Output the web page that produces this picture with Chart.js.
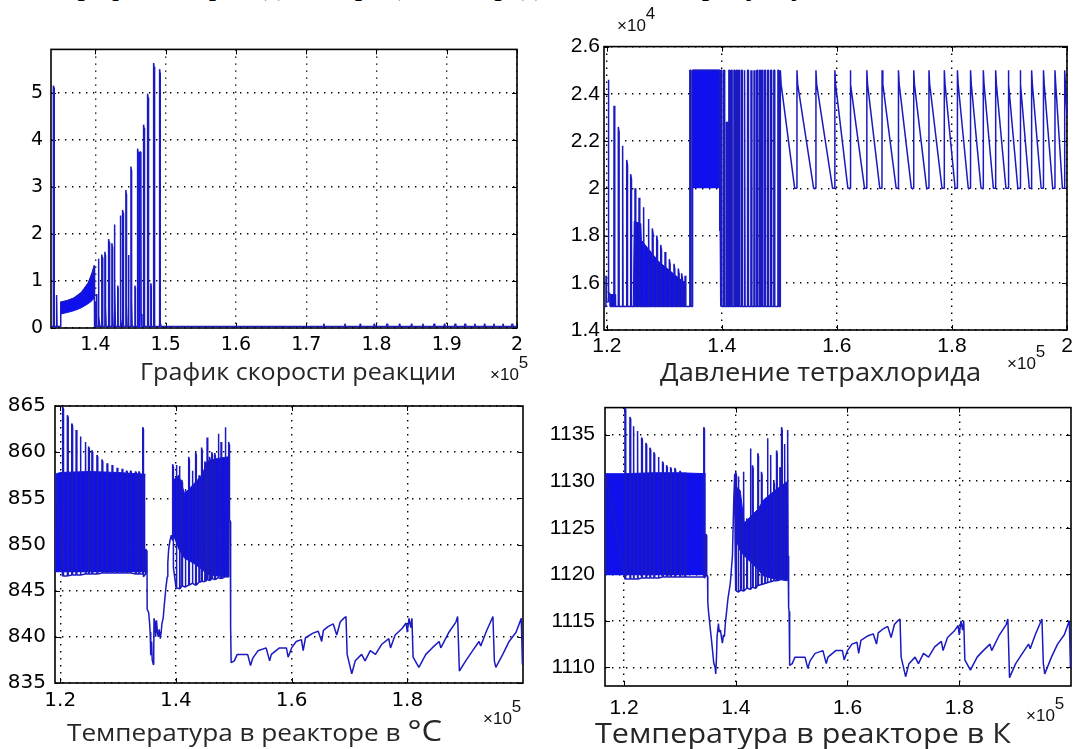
<!DOCTYPE html>
<html lang="ru">
<head>
<meta charset="utf-8">
<title>Графики</title>
<script src="https://cdn.jsdelivr.net/npm/chart.js@4.4.1/dist/chart.umd.min.js"></script>
<style>
  html, body { margin: 0; padding: 0; background: #fff; }
  body { width: 1081px; height: 749px; position: relative; overflow: hidden; }
  canvas { position: absolute; }
  .cap { position: absolute; white-space: nowrap; line-height: 1; color: #262626; font-family: "Open Sans", sans-serif;
         transform: scaleX(1.09); transform-origin: 0 0; }
  .mult { position: absolute; white-space: nowrap; line-height: 1; color: #111; font-family: "Liberation Sans", Arial, sans-serif; font-size: 17px; }
  .mult span { position: relative; top: -12px; }
  .clip { position: absolute; left: 0; top: 0; width: 1081px; height: 10px; overflow: hidden; }
  .clip span { position: absolute; left: 62px; top: -30px; font-family: "Liberation Serif", serif; font-size: 30px; line-height: 1; white-space: nowrap; }
</style>
</head>
<body>
<div class="clip"><span>Графики переходных процессов представлены по рисунку</span></div>

<canvas id="rateChart" width="537" height="328" style="left:0px; top:30px"></canvas>
<canvas id="pressChart" width="532" height="335" style="left:549px; top:30px"></canvas>
<canvas id="tempCChart" width="540" height="328" style="left:0px; top:385px"></canvas>
<canvas id="tempKChart" width="536" height="331" style="left:545px; top:385px"></canvas>

<div class="mult" style="left:617px; top:17px">×10<span>4</span></div>
<div class="cap" style="left:140px; top:360px; font-size:23px">График скорости реакции</div>
<div class="mult" style="left:490px; top:366px">×10<span>5</span></div>
<div class="cap" style="left:660px; top:359px; font-size:25px">Давление тетрахлорида</div>
<div class="mult" style="left:1007px; top:355px">×10<span>5</span></div>
<div class="cap" style="left:67px; top:715px; font-size:24px">Температура в реакторе в <span style="font-size:30px">°C</span></div>
<div class="mult" style="left:483px; top:710px">×10<span>5</span></div>
<div class="cap" style="left:595px; top:718px; font-size:28px">Температура в реакторе в К</div>
<div class="mult" style="left:1026px; top:707px">×10<span>5</span></div>

<script>
// --- График скорости реакции (x в единицах 1e5) ---
const rateXTicks = [1.4, 1.5, 1.6, 1.7, 1.8, 1.9, 2];
const rateYTicks = [0, 1, 2, 3, 4, 5];

const rateHeadX = [1.3368, 1.3399, 1.3401, 1.3411, 1.3413, 1.3441, 1.3443, 1.3451, 1.3453, 1.3504,
    1.3506, 1.3600, 1.3700, 1.3800, 1.3900, 1.3950, 1.3984, 1.3987,
    1.4001, 1.4003, 1.4009, 1.4015, 1.4021, 1.4038];
const rateHeadY = [0.03, 0.03, 5.15, 5.10, 0.03, 0.03, 0.70, 0.66, 0.03, 0.03,
    0.55, 0.58, 0.64, 0.75, 0.96, 1.15, 1.33, 0.03,
    0.03, 0.55, 0.08, 0.72, 0.03, 0.03];

const rateSpikeX = [
    1.4040, 1.4047, 1.4050, 1.4062, 1.4088,
    1.4090, 1.4097, 1.4100, 1.4107, 1.4132,
    1.4134, 1.4140, 1.4143, 1.4152, 1.4185,
    1.4187, 1.4194, 1.4197, 1.4205, 1.4232,
    1.4234, 1.4240, 1.4243, 1.4250, 1.4265,
    1.4267, 1.4274, 1.4277, 1.4284, 1.4315,
    1.4317, 1.4321, 1.4323, 1.4350,
    1.4352, 1.4358, 1.4361, 1.4368, 1.4384,
    1.4386, 1.4392, 1.4395, 1.4402, 1.4431,
    1.4433, 1.4439, 1.4442, 1.4450, 1.4466,
    1.4468, 1.4474, 1.4477, 1.4503,
    1.4505, 1.4511, 1.4514, 1.4522, 1.4560,
    1.4562, 1.4566, 1.4568, 1.4598,
    1.4600, 1.4606, 1.4646, 1.4650, 1.4660, 1.4683,
    1.4685, 1.4691, 1.4694, 1.4702, 1.4740,
    1.4742, 1.4748, 1.4751, 1.4760, 1.4786,
    1.4788, 1.4792, 1.4794, 1.4826,
    1.4828, 1.4834, 1.4837, 1.4846, 1.4911,
    1.4913, 1.4919, 1.4922, 1.4935];
const rateSpikeY = [
    1.47, 1.40, 0.25, 0.03, 0.03,
    1.56, 1.50, 0.60, 0.03, 0.03,
    1.62, 1.55, 0.45, 0.03, 0.03,
    1.89, 1.82, 0.65, 0.03, 0.03,
    1.80, 1.72, 0.40, 0.03, 0.03,
    2.20, 2.12, 1.00, 0.03, 0.03,
    0.90, 0.85, 0.03, 0.03,
    2.39, 2.30, 0.20, 0.03, 0.03,
    2.51, 2.45, 1.55, 0.03, 0.03,
    2.93, 2.85, 0.50, 0.03, 0.03,
    1.55, 1.50, 0.03, 0.03,
    3.43, 3.35, 0.60, 0.03, 0.03,
    0.90, 0.85, 0.03, 0.03,
    3.81, 3.72, 3.74, 0.30, 0.03, 0.03,
    4.32, 4.25, 0.40, 0.03, 0.03,
    4.98, 4.90, 0.50, 0.03, 0.03,
    0.95, 0.90, 0.03, 0.03,
    5.63, 5.55, 0.20, 0.03, 0.03,
    5.50, 5.42, 0.10, 0.03];

const rateTailX = [1.7240, 1.7250, 1.7260, 1.7540, 1.7550, 1.7560, 1.7760, 1.7770, 1.7780,
    1.7960, 1.7970, 1.7980, 1.8140, 1.8150, 1.8160, 1.8320, 1.8330, 1.8340,
    1.8490, 1.8500, 1.8510, 1.8650, 1.8660, 1.8670, 1.8810, 1.8820, 1.8830,
    1.8960, 1.8970, 1.8980, 1.9110, 1.9120, 1.9130, 1.9250, 1.9260, 1.9270,
    1.9390, 1.9400, 1.9410, 1.9530, 1.9540, 1.9550, 1.9660, 1.9670, 1.9680,
    1.9790, 1.9800, 1.9810, 1.9920, 1.9930, 1.9940, 2.0000];
const rateTailY = [0.03, 0.09, 0.03, 0.03, 0.09, 0.03, 0.03, 0.09, 0.03,
    0.03, 0.09, 0.03, 0.03, 0.09, 0.03, 0.03, 0.09, 0.03,
    0.03, 0.09, 0.03, 0.03, 0.09, 0.03, 0.03, 0.09, 0.03,
    0.03, 0.09, 0.03, 0.03, 0.09, 0.03, 0.03, 0.09, 0.03,
    0.03, 0.09, 0.03, 0.03, 0.09, 0.03, 0.03, 0.09, 0.03,
    0.03, 0.09, 0.03, 0.03, 0.09, 0.03, 0.03];

// сплошная полоса колебаний 1.35..1.40
const rateBandX = [1.3506, 1.3600, 1.3700, 1.3800, 1.3900, 1.3950, 1.3984];
const rateBandTop = [0.55, 0.58, 0.64, 0.75, 0.96, 1.15, 1.33];
const rateBandBottom = [0.30, 0.33, 0.37, 0.43, 0.52, 0.58, 0.64];
const rateBlockX = [1.4606, 1.4646];
const rateBlockY = [3.72, 3.74];

// --- Давление тетрахлорида (y в единицах 1e4) ---
const pressXTicks = [1.2, 1.4, 1.6, 1.8, 2];
const pressYTicks = [1.4, 1.6, 1.8, 2, 2.2, 2.4, 2.6];

const pressHeadX = [1.1950, 1.1983, 1.1985, 1.1992, 1.1994, 1.2022, 1.2024, 1.2032, 1.2034, 1.2060, 1.2062,
    1.2122, 1.2124, 1.2136, 1.2138,
    1.2197, 1.2199, 1.2211, 1.2213,
    1.2266, 1.2268, 1.2280, 1.2282,
    1.2343, 1.2345, 1.2357, 1.2359,
    1.2412, 1.2414, 1.2426, 1.2428,
    1.2487, 1.2489, 1.2501, 1.2503,
    1.2557, 1.2559, 1.2571, 1.2573,
    1.2631, 1.2633, 1.2645, 1.2647,
    1.2718, 1.2720, 1.2732, 1.2734,
    1.2788, 1.2790, 1.2802, 1.2804,
    1.2864, 1.2866, 1.2878, 1.2880,
    1.2934, 1.2936, 1.2948, 1.2950,
    1.3009, 1.3011, 1.3023, 1.3025,
    1.3084, 1.3086, 1.3098, 1.3100,
    1.3165, 1.3167, 1.3179, 1.3181,
    1.3240, 1.3242, 1.3254, 1.3256,
    1.3298, 1.3300, 1.3312, 1.3314,
    1.3357, 1.3359, 1.3371, 1.3373,
    1.3440, 1.3442, 1.3460, 1.3462, 1.3488, 1.3490, 1.3960, 1.3962, 1.3964, 1.3972, 1.3975];
const pressHeadY = [1.50, 1.50, 1.63, 1.63, 1.52, 1.52, 2.46, 2.44, 1.56, 1.55, 1.50,
    1.50, 2.35, 2.33, 1.50,
    1.50, 2.26, 2.24, 1.50,
    1.50, 2.18, 2.16, 1.50,
    1.50, 2.12, 2.10, 1.50,
    1.50, 2.06, 2.04, 1.50,
    1.50, 2.00, 1.98, 1.50,
    1.50, 1.96, 1.94, 1.50,
    1.50, 1.92, 1.90, 1.50,
    1.50, 1.87, 1.85, 1.50,
    1.50, 1.83, 1.81, 1.50,
    1.50, 1.80, 1.78, 1.50,
    1.50, 1.76, 1.74, 1.50,
    1.50, 1.73, 1.71, 1.50,
    1.50, 1.70, 1.68, 1.50,
    1.50, 1.68, 1.66, 1.50,
    1.50, 1.66, 1.64, 1.50,
    1.50, 1.64, 1.62, 1.50,
    1.50, 1.63, 1.61, 1.50,
    1.50, 2.50, 2.50, 1.50, 1.50, 2.50, 2.50, 2.00, 1.82, 1.82, 1.50];

// прямоугольные импульсы 1.40..1.50
const pressPulseX = [
    1.3982, 1.3984, 1.3998, 1.4000,
    1.4030, 1.4032, 1.4046, 1.4048,
    1.4077, 1.4079, 1.4093, 1.4095,
    1.4119, 1.4121, 1.4135, 1.4137,
    1.4160, 1.4162, 1.4176, 1.4178,
    1.4207, 1.4209, 1.4223, 1.4225,
    1.4249, 1.4251, 1.4265, 1.4267,
    1.4290, 1.4292, 1.4306, 1.4308,
    1.4338, 1.4340, 1.4354, 1.4356,
    1.4385, 1.4387, 1.4401, 1.4403,
    1.4444, 1.4446, 1.4460, 1.4462,
    1.4504, 1.4506, 1.4520, 1.4522,
    1.4557, 1.4559, 1.4573, 1.4575,
    1.4604, 1.4606, 1.4620, 1.4622,
    1.4652, 1.4654, 1.4668, 1.4670,
    1.4693, 1.4695, 1.4709, 1.4711,
    1.4741, 1.4743, 1.4757, 1.4759,
    1.4794, 1.4796, 1.4810, 1.4812,
    1.4847, 1.4849, 1.4863, 1.4865,
    1.4901, 1.4903, 1.4917, 1.4919,
    1.4972, 1.4974, 1.4988, 1.4990];
const pressPulseY = [
    1.50, 2.50, 2.50, 1.50,
    1.50, 2.50, 2.50, 1.50,
    1.50, 2.28, 2.28, 1.50,
    1.50, 2.50, 2.50, 1.50,
    1.50, 2.50, 2.50, 1.50,
    1.50, 2.50, 2.50, 1.50,
    1.50, 2.50, 2.50, 1.50,
    1.50, 2.50, 2.50, 1.50,
    1.50, 2.50, 2.50, 1.50,
    1.50, 2.50, 2.50, 1.50,
    1.50, 2.50, 2.50, 1.50,
    1.50, 2.50, 2.50, 1.50,
    1.50, 2.50, 2.50, 1.50,
    1.50, 2.50, 2.50, 1.50,
    1.50, 2.50, 2.50, 1.50,
    1.50, 2.50, 2.50, 1.50,
    1.50, 2.50, 2.50, 1.50,
    1.50, 2.50, 2.50, 1.50,
    1.50, 2.50, 2.50, 1.50,
    1.50, 2.50, 2.50, 1.50,
    1.50, 2.50, 2.50, 1.50];

// пила 2.0..2.5 после 1.5
const pressSawX = [
    1.5014, 1.5016, 1.5030, 1.5265,
    1.5303, 1.5305, 1.5318, 1.5595,
    1.5633, 1.5635, 1.5648, 1.5924,
    1.5962, 1.5964, 1.5977, 1.6190,
    1.6228, 1.6230, 1.6243, 1.6480,
    1.6518, 1.6520, 1.6533, 1.6745,
    1.6783, 1.6785, 1.6798, 1.7030,
    1.7068, 1.7070, 1.7083, 1.7295,
    1.7333, 1.7335, 1.7348, 1.7560,
    1.7598, 1.7600, 1.7613, 1.7827,
    1.7865, 1.7867, 1.7880, 1.8055,
    1.8093, 1.8095, 1.8108, 1.8283,
    1.8321, 1.8323, 1.8336, 1.8505,
    1.8543, 1.8545, 1.8558, 1.8720,
    1.8758, 1.8760, 1.8773, 1.8938,
    1.8976, 1.8978, 1.8991, 1.9145,
    1.9183, 1.9185, 1.9198, 1.9345,
    1.9383, 1.9385, 1.9398, 1.9551,
    1.9589, 1.9591, 1.9604, 1.9751,
    1.9789, 1.9791, 1.9804, 1.9920,
    1.9958, 1.9960, 1.9973, 2.0000];
const pressSawY = [
    1.50, 2.50, 2.44, 2.00,
    2.00, 2.50, 2.44, 2.00,
    2.00, 2.50, 2.44, 2.00,
    2.00, 2.50, 2.44, 2.00,
    2.00, 2.50, 2.44, 2.00,
    2.00, 2.50, 2.44, 2.00,
    2.00, 2.50, 2.44, 2.00,
    2.00, 2.50, 2.44, 2.00,
    2.00, 2.50, 2.44, 2.00,
    2.00, 2.50, 2.44, 2.00,
    2.00, 2.50, 2.44, 2.00,
    2.00, 2.50, 2.44, 2.00,
    2.00, 2.50, 2.44, 2.00,
    2.00, 2.50, 2.44, 2.00,
    2.00, 2.50, 2.44, 2.00,
    2.00, 2.50, 2.44, 2.00,
    2.00, 2.50, 2.44, 2.00,
    2.00, 2.50, 2.44, 2.00,
    2.00, 2.50, 2.44, 2.00,
    2.00, 2.50, 2.44, 2.00,
    2.00, 2.50, 2.44, 2.30];

const pressBlockX = [1.3490, 1.3960];
const pressBlockY = [2.50, 2.50];
const pressFillX = [1.2040, 1.2150, 1.2152, 1.2460, 1.2475, 1.2590, 1.2600, 1.2700, 1.2800, 1.2900, 1.3000, 1.3100, 1.3200, 1.3300, 1.3380];
const pressFillY = [1.55, 1.55, 1.50, 1.50, 1.86, 1.85, 1.78, 1.75, 1.72, 1.69, 1.67, 1.65, 1.63, 1.61, 1.60];

// --- общий хвост по времени для обеих температур ---
const stairX = [1.5010, 1.5060, 1.5240, 1.5290, 1.5330, 1.5420, 1.5560, 1.5620, 1.5650, 1.5790,
    1.5910, 1.5940, 1.6000, 1.6080, 1.6170, 1.6200, 1.6240, 1.6370, 1.6460, 1.6520,
    1.6550, 1.6630, 1.6720, 1.6780, 1.6840, 1.6900, 1.6940, 1.6960, 1.7040, 1.7100,
    1.7210, 1.7270, 1.7360, 1.7450, 1.7560, 1.7680, 1.7710, 1.7790, 1.7910, 1.7980,
    1.8000, 1.8030, 1.8060, 1.8080, 1.8100, 1.8200, 1.8320, 1.8430, 1.8550, 1.8580,
    1.8720, 1.8840, 1.8870, 1.8900, 1.9010, 1.9130, 1.9240, 1.9270, 1.9360, 1.9480,
    1.9505, 1.9530, 1.9650, 1.9760, 1.9880, 1.9970, 1.9990];

// --- Температура в °C ---
const tempCXTicks = [1.2, 1.4, 1.6, 1.8];
const tempCYTicks = [835, 840, 845, 850, 855, 860, 865];

const tempCHeadX = [1.1912, 1.1930,
    1.2041, 1.2043, 1.2055, 1.2057,
    1.2122, 1.2124, 1.2136, 1.2138,
    1.2198, 1.2200, 1.2212, 1.2214,
    1.2273, 1.2275, 1.2287, 1.2289,
    1.2343, 1.2345, 1.2357, 1.2359,
    1.2430, 1.2432, 1.2444, 1.2446,
    1.2488, 1.2490, 1.2502, 1.2504,
    1.2546, 1.2548, 1.2560, 1.2562,
    1.2633, 1.2635, 1.2647, 1.2649,
    1.2720, 1.2722, 1.2734, 1.2736,
    1.2807, 1.2809, 1.2821, 1.2823,
    1.2894, 1.2896, 1.2908, 1.2910,
    1.2981, 1.2983, 1.2995, 1.2997,
    1.3067, 1.3069, 1.3081, 1.3083,
    1.3143, 1.3145, 1.3157, 1.3159,
    1.3212, 1.3214, 1.3226, 1.3228,
    1.3299, 1.3301, 1.3313, 1.3315,
    1.3357, 1.3359, 1.3371, 1.3373,
    1.3425, 1.3427, 1.3437, 1.3439, 1.3474, 1.3476, 1.3500, 1.3503];
const tempCHeadY = [847.0, 857.6,
    846.6, 864.9, 864.7, 846.6,
    846.6, 864.0, 863.8, 846.6,
    846.7, 863.1, 862.9, 846.7,
    846.7, 862.4, 862.2, 846.7,
    846.7, 861.7, 861.5, 846.7,
    846.8, 861.1, 860.9, 846.8,
    846.8, 860.6, 860.4, 846.8,
    846.8, 860.2, 860.0, 846.8,
    846.8, 859.7, 859.5, 846.8,
    846.9, 859.2, 859.0, 846.9,
    846.9, 858.8, 858.6, 846.9,
    846.9, 858.6, 858.4, 846.9,
    846.9, 858.3, 858.1, 846.9,
    846.9, 858.2, 858.0, 846.9,
    846.9, 858.0, 857.9, 846.9,
    846.9, 858.0, 857.9, 846.9,
    846.8, 857.9, 857.8, 846.8,
    846.8, 857.9, 857.8, 846.8,
    846.8, 862.7, 862.5, 846.5, 846.8, 849.5, 849.3, 843.0];

// провал 1.35..1.395
const tempCDipX = [1.3530, 1.3545, 1.3555, 1.3565, 1.3580, 1.3590, 1.3610, 1.3617, 1.3622, 1.3640,
    1.3650, 1.3665, 1.3680, 1.3695, 1.3710, 1.3730, 1.3745, 1.3760, 1.3780, 1.3800,
    1.3815, 1.3830, 1.3850, 1.3860, 1.3875, 1.3900, 1.3920, 1.3938];
const tempCDipY = [842.6, 841.5, 840.5, 838.0, 839.5, 837.5, 837.0, 838.5, 842.0, 841.5,
    840.0, 841.8, 840.5, 840.0, 840.8, 839.8, 840.5, 841.5, 842.0, 843.5,
    844.5, 845.5, 846.5, 848.0, 849.5, 850.5, 851.0, 850.5];

const tempCMidX = [
    1.3943, 1.3945, 1.3955, 1.3957,
    1.4003, 1.4005, 1.4015, 1.4017,
    1.4058, 1.4060, 1.4070, 1.4072,
    1.4100, 1.4102, 1.4112, 1.4114,
    1.4158, 1.4160, 1.4170, 1.4172,
    1.4219, 1.4221, 1.4231, 1.4233,
    1.4280, 1.4282, 1.4292, 1.4294,
    1.4339, 1.4341, 1.4351, 1.4353,
    1.4398, 1.4400, 1.4410, 1.4412,
    1.4442, 1.4444, 1.4454, 1.4456,
    1.4498, 1.4500, 1.4510, 1.4512,
    1.4537, 1.4539, 1.4549, 1.4551,
    1.4579, 1.4581, 1.4591, 1.4593,
    1.4618, 1.4620, 1.4630, 1.4632,
    1.4669, 1.4671, 1.4681, 1.4683,
    1.4729, 1.4731, 1.4741, 1.4743,
    1.4778, 1.4780, 1.4790, 1.4792,
    1.4849, 1.4851, 1.4861, 1.4863,
    1.4910, 1.4912, 1.4922,
    1.4926, 1.4940, 1.4942, 1.4950, 1.4955];
const tempCMidY = [
    850.5, 858.7, 858.4, 847.5,
    845.3, 858.6, 858.3, 845.3,
    845.2, 858.5, 858.2, 845.2,
    845.5, 857.0, 856.7, 845.5,
    845.4, 856.0, 855.7, 845.4,
    845.6, 859.5, 859.2, 845.6,
    845.8, 858.0, 857.7, 845.8,
    845.6, 860.0, 859.7, 845.6,
    845.9, 857.5, 857.2, 845.9,
    846.0, 860.5, 860.2, 846.0,
    846.0, 859.0, 858.7, 846.0,
    846.2, 861.6, 861.3, 846.2,
    846.1, 859.5, 859.2, 846.1,
    846.3, 860.0, 859.7, 846.3,
    846.2, 859.9, 859.6, 846.2,
    846.4, 862.0, 861.7, 846.4,
    846.3, 861.1, 860.8, 846.3,
    846.5, 862.7, 862.4, 846.5,
    846.5, 861.1, 860.8,
    852.7, 852.5, 841.3, 841.0, 837.2];

const tempCStairY = [837.4, 838.1, 838.1, 836.9, 837.7, 838.5, 838.8, 837.4, 838.1, 838.8,
    838.8, 837.8, 838.8, 839.5, 839.7, 838.5, 839.9, 840.4, 840.6, 839.5,
    840.7, 841.1, 841.4, 840.2, 841.6, 842.0, 842.2, 838.1, 836.0, 837.4,
    838.1, 837.4, 838.5, 838.1, 839.2, 839.8, 838.8, 840.2, 840.9, 841.5,
    840.5, 842.0, 841.0, 842.0, 837.8, 836.7, 838.1, 838.8, 839.5, 838.8,
    840.5, 841.6, 842.2, 836.3, 837.4, 838.5, 839.5, 839.0, 840.5, 842.2,
    837.4, 836.7, 838.1, 839.5, 840.5, 842.0, 837.0];

const tempCBandX = [1.1912, 1.2000, 1.2500, 1.3000, 1.3475];
const tempCBandY = [857.6, 857.8, 857.9, 857.8, 857.6];
const tempCFillX = [1.3960, 1.4050, 1.4150, 1.4300, 1.4450, 1.4540, 1.4700, 1.4915];
const tempCFillTop = [857.0, 857.5, 855.5, 856.5, 857.5, 859.0, 859.3, 859.5];
const tempCFillBottom = [851.0, 849.5, 848.5, 848.0, 847.3, 846.8, 846.6, 846.5];

// --- Температура в К ---
const tempKXTicks = [1.2, 1.4, 1.6, 1.8];
const tempKYTicks = [1110, 1115, 1120, 1125, 1130, 1135];

const tempKHeadX = [1.1662, 1.1675,
    1.2015, 1.2017, 1.2029, 1.2031,
    1.2104, 1.2106, 1.2118, 1.2120,
    1.2164, 1.2166, 1.2178, 1.2180,
    1.2235, 1.2237, 1.2249, 1.2251,
    1.2313, 1.2315, 1.2327, 1.2329,
    1.2390, 1.2392, 1.2404, 1.2406,
    1.2462, 1.2464, 1.2476, 1.2478,
    1.2533, 1.2535, 1.2547, 1.2549,
    1.2610, 1.2612, 1.2624, 1.2626,
    1.2688, 1.2690, 1.2702, 1.2704,
    1.2760, 1.2762, 1.2774, 1.2776,
    1.2831, 1.2833, 1.2845, 1.2847,
    1.2908, 1.2910, 1.2922, 1.2924,
    1.2997, 1.2999, 1.3011, 1.3013,
    1.3087, 1.3089, 1.3101, 1.3103,
    1.3426, 1.3428, 1.3438, 1.3440, 1.3462, 1.3466];
const tempKHeadY = [1120.0, 1130.8,
    1119.5, 1137.9, 1137.7, 1119.5,
    1119.5, 1136.9, 1136.7, 1119.5,
    1119.5, 1135.9, 1135.7, 1119.5,
    1119.5, 1135.4, 1135.2, 1119.5,
    1119.6, 1134.7, 1134.5, 1119.6,
    1119.6, 1134.1, 1133.9, 1119.6,
    1119.6, 1133.6, 1133.4, 1119.6,
    1119.6, 1133.1, 1132.9, 1119.6,
    1119.6, 1132.6, 1132.4, 1119.6,
    1119.7, 1132.1, 1131.9, 1119.7,
    1119.7, 1131.7, 1131.5, 1119.7,
    1119.7, 1131.5, 1131.3, 1119.7,
    1119.7, 1131.4, 1131.2, 1119.7,
    1119.7, 1131.1, 1131.0, 1119.7,
    1119.7, 1130.9, 1130.8, 1119.7,
    1119.7, 1135.8, 1135.6, 1119.6, 1119.8, 1124.3];

const tempKDipX = [1.3476, 1.3480, 1.3495, 1.3500, 1.3511, 1.3530, 1.3547, 1.3565, 1.3583, 1.3606,
    1.3630, 1.3642, 1.3655, 1.3666, 1.3690, 1.3705, 1.3726, 1.3745, 1.3761, 1.3780,
    1.3797, 1.3815, 1.3833, 1.3863, 1.3890, 1.3905, 1.3941, 1.3964, 1.3982];
const tempKDipY = [1124.2, 1120.0, 1119.8, 1117.0, 1116.1, 1115.0, 1114.0, 1113.0, 1111.9, 1110.5,
    1110.0, 1109.3, 1111.0, 1113.3, 1114.7, 1113.8, 1114.0, 1113.2, 1112.6, 1113.5,
    1113.3, 1114.8, 1115.8, 1117.5, 1118.5, 1119.2, 1122.0, 1127.9, 1130.8];

const tempKMidX = [1.3990,
    1.3998, 1.4000, 1.4010, 1.4012,
    1.4041, 1.4043, 1.4053, 1.4055,
    1.4088, 1.4090, 1.4100, 1.4102,
    1.4134, 1.4136, 1.4146, 1.4148,
    1.4195, 1.4197, 1.4207, 1.4209,
    1.4258, 1.4260, 1.4270, 1.4272,
    1.4298, 1.4300, 1.4310, 1.4312,
    1.4350, 1.4352, 1.4362, 1.4364,
    1.4393, 1.4395, 1.4405, 1.4407,
    1.4458, 1.4460, 1.4470, 1.4472,
    1.4518, 1.4520, 1.4530, 1.4532,
    1.4563, 1.4565, 1.4575, 1.4577,
    1.4618, 1.4620, 1.4630, 1.4632,
    1.4678, 1.4680, 1.4690, 1.4692,
    1.4728, 1.4730, 1.4740, 1.4742,
    1.4788, 1.4790, 1.4800, 1.4802,
    1.4818, 1.4820, 1.4830, 1.4832,
    1.4868, 1.4870, 1.4880, 1.4882,
    1.4923, 1.4925, 1.4933,
    1.4936, 1.4945, 1.4948, 1.4955, 1.4965];
const tempKMidY = [1122.0,
    1118.2, 1131.0, 1130.7, 1118.2,
    1118.1, 1130.5, 1130.2, 1118.1,
    1118.3, 1126.5, 1126.2, 1118.3,
    1118.2, 1131.0, 1130.7, 1118.2,
    1118.5, 1126.0, 1125.7, 1118.5,
    1118.4, 1133.5, 1133.2, 1118.4,
    1118.6, 1131.7, 1131.4, 1118.6,
    1118.5, 1126.5, 1126.2, 1118.5,
    1118.8, 1133.0, 1132.7, 1118.8,
    1118.9, 1131.0, 1130.7, 1118.9,
    1119.0, 1127.0, 1126.7, 1119.0,
    1119.1, 1134.6, 1134.3, 1119.1,
    1119.2, 1132.8, 1132.5, 1119.2,
    1119.3, 1130.0, 1129.7, 1119.3,
    1119.3, 1133.3, 1133.0, 1119.3,
    1119.4, 1131.5, 1131.2, 1119.4,
    1119.5, 1135.8, 1135.5, 1119.5,
    1119.5, 1134.0, 1133.7, 1119.5,
    1119.5, 1135.5, 1135.2,
    1122.0, 1121.5, 1116.4, 1116.0, 1110.2];

const tempKStairY = [1110.4, 1111.1, 1111.1, 1109.9, 1110.7, 1111.5, 1111.8, 1110.4, 1111.1, 1111.8,
    1111.8, 1110.8, 1111.8, 1112.5, 1112.7, 1111.5, 1112.9, 1113.4, 1113.6, 1112.5,
    1113.7, 1114.1, 1114.4, 1113.2, 1114.6, 1115.0, 1115.2, 1111.1, 1109.0, 1110.4,
    1111.1, 1110.4, 1111.5, 1111.1, 1112.2, 1112.8, 1111.8, 1113.2, 1113.9, 1114.5,
    1113.5, 1115.0, 1114.0, 1115.0, 1110.8, 1109.7, 1111.1, 1111.8, 1112.5, 1111.8,
    1113.5, 1114.6, 1115.2, 1108.9, 1110.4, 1111.5, 1112.5, 1112.0, 1113.5, 1115.2,
    1110.4, 1109.3, 1111.1, 1112.5, 1113.5, 1115.0, 1110.0];

const tempKBandX = [1.1662, 1.2000, 1.2500, 1.3000, 1.3464];
const tempKBandY = [1130.8, 1130.8, 1130.9, 1130.9, 1130.8];
const tempKFillX = [1.3990, 1.4080, 1.4150, 1.4400, 1.4500, 1.4700, 1.4930];
const tempKFillTop = [1129.5, 1129.0, 1125.5, 1127.0, 1128.0, 1129.0, 1130.0];
const tempKFillBottom = [1124.0, 1122.5, 1122.0, 1120.5, 1119.8, 1119.5, 1119.3];

const lineBlue = '#1a1ac0';
const fillBlue = '#1010ec';

function pts(xs, ys) {
    return xs.map((x, i) => ({ x: x, y: ys[i] }));
}

function line(xs, ys) {
    return { data: pts(xs, ys), borderColor: lineBlue, borderWidth: 1.5, fill: false };
}

function band(xs, ys, fill) {
    return { data: pts(xs, ys), borderColor: fillBlue, backgroundColor: fillBlue, borderWidth: 1, fill: fill };
}

// рамка и внутренние засечки как в matlab
const boxPlugin = {
    id: 'box',
    beforeDatasetsDraw(chart) {
        const { ctx, chartArea: a, scales } = chart;
        ctx.save();
        ctx.strokeStyle = '#000';
        ctx.lineWidth = 1;
        ctx.beginPath();
        scales.x.ticks.forEach(t => {
            const px = Math.round(scales.x.getPixelForValue(t.value)) + 0.5;
            ctx.moveTo(px, a.bottom); ctx.lineTo(px, a.bottom - 5);
            ctx.moveTo(px, a.top); ctx.lineTo(px, a.top + 5);
        });
        scales.y.ticks.forEach(t => {
            const py = Math.round(scales.y.getPixelForValue(t.value)) + 0.5;
            ctx.moveTo(a.left, py); ctx.lineTo(a.left + 5, py);
            ctx.moveTo(a.right, py); ctx.lineTo(a.right - 5, py);
        });
        ctx.stroke();
        ctx.lineWidth = 1.6;
        ctx.strokeRect(a.left, a.top, a.right - a.left, a.bottom - a.top);
        ctx.restore();
    }
};

function axis(min, max, ticks, font, pad, fit) {
    return {
        type: 'linear',
        min: min,
        max: max,
        afterBuildTicks: s => { s.ticks = ticks.map(v => ({ value: v })); },
        afterFit: fit,
        ticks: { font: font, color: '#000', padding: pad, autoSkip: false, maxRotation: 0, callback: v => String(v) },
        grid: { color: '#000', lineWidth: 1.4, drawTicks: false, borderDash: [1.4, 5.6] },
        border: { display: false, dash: [1.4, 5.6] }
    };
}

function drawPlot(id, o) {
    return new Chart(document.getElementById(id), {
        type: 'line',
        data: { datasets: o.datasets },
        options: {
            responsive: false,
            animation: false,
            events: [],
            layout: { padding: { left: 0, top: o.padTop, right: o.padRight, bottom: 0 } },
            elements: { point: { radius: 0 }, line: { tension: 0, borderJoinStyle: 'bevel' } },
            plugins: { legend: { display: false }, tooltip: { enabled: false } },
            scales: {
                x: axis(o.x[0], o.x[1], o.xTicks, o.font, o.xPad, s => { s.height = o.xH; }),
                y: axis(o.y[0], o.y[1], o.yTicks, o.font, o.yPad, s => { s.width = o.yW; })
            }
        },
        plugins: [boxPlugin]
    });
}

drawPlot('rateChart', {
    x: [1.3367, 2.0], y: [0, 5.92],
    xTicks: rateXTicks, yTicks: rateYTicks,
    font: { family: 'DejaVu Sans', size: 19 },
    padTop: 13, padRight: 20, xH: 30, yW: 51, xPad: 6, yPad: 8,
    datasets: [
        line([...rateHeadX, ...rateSpikeX, ...rateTailX], [...rateHeadY, ...rateSpikeY, ...rateTailY]),
        band(rateBandX, rateBandTop, '+1'),
        band(rateBandX, rateBandBottom, false),
        band(rateBlockX, rateBlockY, { value: 0 })
    ]
});

drawPlot('pressChart', {
    x: [1.195, 2.0], y: [1.4, 2.6],
    xTicks: pressXTicks, yTicks: pressYTicks,
    font: { family: 'Liberation Sans', size: 21 },
    padTop: 13, padRight: 14, xH: 35, yW: 55, xPad: 4, yPad: 4,
    datasets: [
        line([...pressHeadX, ...pressPulseX, ...pressSawX], [...pressHeadY, ...pressPulseY, ...pressSawY]),
        band(pressBlockX, pressBlockY, { value: 2.0 }),
        band(pressFillX, pressFillY, { value: 1.5 })
    ]
});

drawPlot('tempCChart', {
    x: [1.191, 2.0], y: [835, 865],
    xTicks: tempCXTicks, yTicks: tempCYTicks,
    font: { family: 'DejaVu Sans', size: 20 },
    padTop: 13, padRight: 17, xH: 30, yW: 55, xPad: 6, yPad: 9,
    datasets: [
        line([...tempCHeadX, ...tempCDipX, ...tempCMidX, ...stairX], [...tempCHeadY, ...tempCDipY, ...tempCMidY, ...tempCStairY]),
        band(tempCBandX, tempCBandY, { value: 847.0 }),
        band(tempCFillX, tempCFillTop, '+1'),
        band(tempCFillX, tempCFillBottom, false)
    ]
});

drawPlot('tempKChart', {
    x: [1.166, 2.0], y: [1108, 1137.9],
    xTicks: tempKXTicks, yTicks: tempKYTicks,
    font: { family: 'Liberation Sans', size: 21 },
    padTop: 13, padRight: 10, xH: 30, yW: 60, xPad: 10, yPad: 10,
    datasets: [
        line([...tempKHeadX, ...tempKDipX, ...tempKMidX, ...stairX], [...tempKHeadY, ...tempKDipY, ...tempKMidY, ...tempKStairY]),
        band(tempKBandX, tempKBandY, { value: 1119.9 }),
        band(tempKFillX, tempKFillTop, '+1'),
        band(tempKFillX, tempKFillBottom, false)
    ]
});
</script>
</body>
</html>
